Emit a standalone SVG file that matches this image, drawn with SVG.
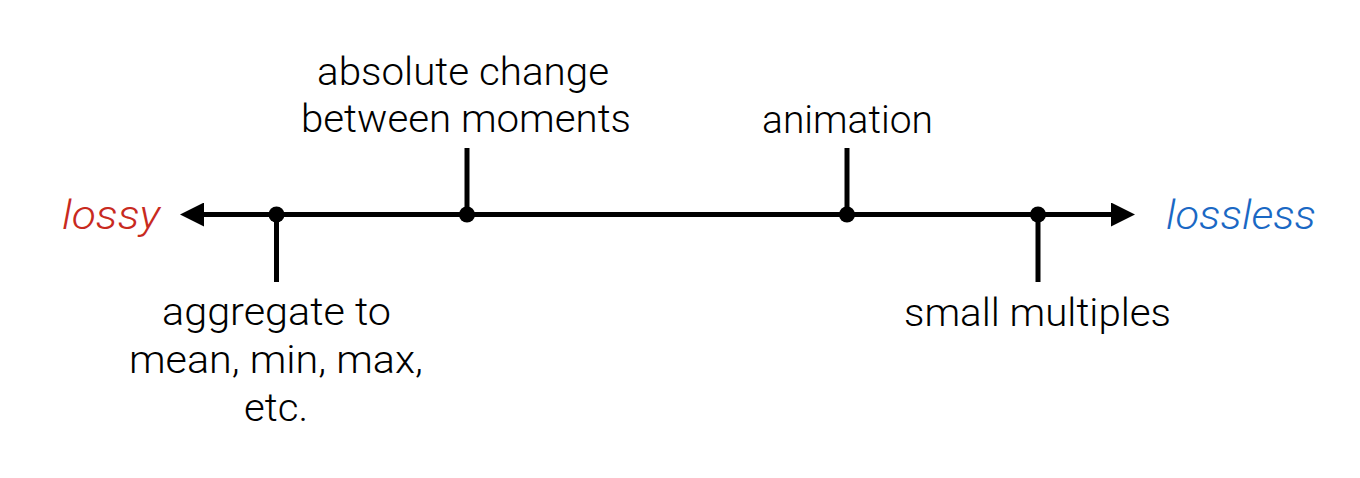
<svg xmlns="http://www.w3.org/2000/svg" width="1360" height="478" viewBox="0 0 1360 478">
<style>
  .lbl { font-family: Roboto, "Liberation Sans", Arial, sans-serif; font-weight: 300; font-size: 39px; fill: #000; text-anchor: middle; }
  .end { font-family: Roboto, "Liberation Sans", Arial, sans-serif; font-weight: 300; font-style: italic; font-size: 40px; }
  .axis { stroke: #000; stroke-width: 5; fill: none; }
  .tick { stroke: #000; stroke-width: 5; fill: none; }
  .dot { fill: #000; }
</style>
<defs>
  <marker id="arrow" markerUnits="userSpaceOnUse" markerWidth="24" markerHeight="24" refX="0" refY="12" orient="auto-start-reverse" viewBox="0 0 24 24">
    <path d="M0,0 L24,12 L0,24 z" fill="#000"/>
  </marker>
</defs>
<rect width="1360" height="478" fill="#fff"/>
<g id="connectors">
  <line class="axis" x1="204" y1="214.5" x2="1111" y2="214.5" marker-start="url(#arrow)" marker-end="url(#arrow)"/>
</g>
<g id="lossy">
  <text class="end" x="62" y="229" fill="#C82A1E" textLength="98" lengthAdjust="spacingAndGlyphs">lossy</text>
</g>
<g id="lossless">
  <text class="end" x="1166" y="229" fill="#1A68C4" textLength="150" lengthAdjust="spacingAndGlyphs">lossless</text>
</g>
<g id="aggregate">
  <line class="tick" x1="276.5" y1="214.5" x2="276.5" y2="282"/>
  <circle class="dot" cx="276.5" cy="214.5" r="8"/>
  <text class="lbl" x="276.5" y="325" textLength="229" lengthAdjust="spacingAndGlyphs">aggregate to</text>
  <text class="lbl" x="276" y="373" textLength="294" lengthAdjust="spacingAndGlyphs">mean, min, max,</text>
  <text class="lbl" x="276" y="421" textLength="64" lengthAdjust="spacingAndGlyphs">etc.</text>
</g>
<g id="absolute-change">
  <line class="tick" x1="467" y1="148" x2="467" y2="214.5"/>
  <circle class="dot" cx="467" cy="214.5" r="8"/>
  <text class="lbl" x="463" y="85" textLength="292" lengthAdjust="spacingAndGlyphs">absolute change</text>
  <text class="lbl" x="466" y="132" textLength="330" lengthAdjust="spacingAndGlyphs">between moments</text>
</g>
<g id="animation">
  <line class="tick" x1="847" y1="148" x2="847" y2="214.5"/>
  <circle class="dot" cx="847" cy="214.5" r="8"/>
  <text class="lbl" x="847.5" y="133" textLength="171" lengthAdjust="spacingAndGlyphs">animation</text>
</g>
<g id="small-multiples">
  <line class="tick" x1="1038" y1="214.5" x2="1038" y2="282"/>
  <circle class="dot" cx="1038" cy="214.5" r="8"/>
  <text class="lbl" x="1037.5" y="326" textLength="267" lengthAdjust="spacingAndGlyphs">small multiples</text>
</g>
</svg>
